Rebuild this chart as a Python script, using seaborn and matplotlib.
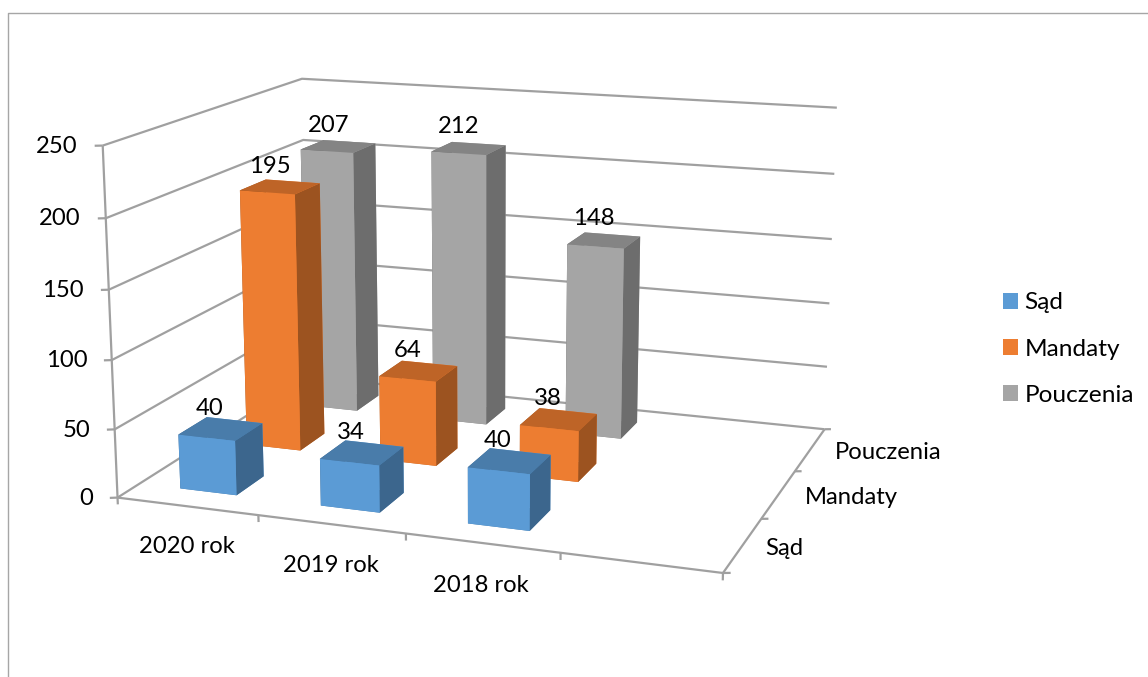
#!/usr/bin/env python3
"""3D column chart: Sąd / Mandaty / Pouczenia per year."""

import numpy as np
import pandas as pd
import matplotlib
matplotlib.use("Agg")
import matplotlib.pyplot as plt
from matplotlib.lines import Line2D
from matplotlib.patches import Patch
from mpl_toolkits.mplot3d import proj3d
import seaborn as sns

# ============================================================
# Data
# ============================================================
YEARS = ["2020 rok", "2019 rok", "2018 rok"]
SERIES = ["Sąd", "Mandaty", "Pouczenia"]
SAD = [40, 34, 40]
MANDATY = [195, 64, 38]
POUCZENIA = [207, 212, 148]
Z_TICKS = [0, 50, 100, 150, 200, 250]
COLORS = ["#5B9BD5", "#ED7D31", "#A5A5A5"]

GRID = "#A0A0A0"
W, H = 1148, 677
FONT = 17.2

# ============================================================
# Plot
# ============================================================
df = pd.DataFrame({"year": YEARS, "Sąd": SAD, "Mandaty": MANDATY, "Pouczenia": POUCZENIA})
df = df.melt(id_vars="year", var_name="series", value_name="value")

sns.set_theme(style="white")
plt.rcParams["font.family"] = ["Lato", "DejaVu Sans"]
palette = sns.color_palette(COLORS)

fig = plt.figure(figsize=(W / 100, H / 100), dpi=100)
side = 1148
ax = fig.add_axes(
    [(W / 2 - side / 2 - 101.74) / W, (H / 2 - side / 2 + 26.10) / H, side / W, side / H],
    projection="3d",
    computed_zorder=False,
)
ax.set_xlim(0, 4, view_margin=0)
ax.set_ylim(0, 3, view_margin=0)
ax.set_zlim(0, 250, view_margin=0)
ax.view_init(13.9727, -70.3360)
ax.set_proj_type("persp", focal_length=0.3606)
ax.set_box_aspect((1, 0.7489, 0.5751), zoom=0.7002)
ax.set_xticks([])
ax.set_yticks([])
ax.set_zticks([])
ax.set_axis_off()


def line(xs, ys, zs):
    ax.plot(xs, ys, zs, color=GRID, lw=1.6, zorder=1, solid_capstyle="butt")


def label(x, y, z, s, **kw):
    # project the 3D anchor, so the text sits at its real place in the picture
    px, py, _ = proj3d.proj_transform(x, y, z, ax.get_proj())
    ax.text2D(px, py, s, transform=ax.transData, fontsize=FONT, color="black", zorder=100, **kw)


# walls: value gridlines on left and back wall
for z in Z_TICKS:
    line([0, 0, 4], [0, 3, 3], [z, z, z])
    line([-0.044, 0], [-0.022, 0], [z, z])
# axis lines
line([0, 0], [0, 0], [0, 250])
line([0, 4], [0, 0], [0, 0])
line([4, 4], [0, 3], [0, 0])
for i in range(5):
    line([i, i], [0, 0], [-5, 0])
for i in range(4):
    line([4, 4.042], [i, i + 0.017], [0, 0])

# columns, back to front
bar_w, bar_d = 0.406, 0.41
label_lift = [6, 7, 8]
order = 10
for s_i in reversed(range(len(SERIES))):
    sub = df[df["series"] == SERIES[s_i]]
    base = np.array(palette[s_i])
    for y_i, year in enumerate(YEARS):
        val = sub.loc[sub["year"] == year, "value"].iloc[0]
        front, top, right = tuple(base), tuple(base * 0.8), tuple(base * 0.66)
        ax.bar3d(
            y_i + 0.297, s_i + 0.30, 0, bar_w, bar_d, val,
            color=[top, top, front, front, right, right],
            shade=False, linewidth=0, zorder=order,
        )
        order += 1
        label(y_i + 0.42, s_i + 0.51, val + label_lift[s_i], str(val), ha="center", va="bottom")

# tick labels
for z in Z_TICKS:
    label(-0.137, -0.07, z, str(z), ha="right", va="center")
for i, year in enumerate(YEARS):
    label(i + 0.49, 0, -30, year, ha="center", va="center")
y_off = [(0.236, 0.096), (0.442, 0.18), (0.50, 0.21)]
for i, name in enumerate(SERIES):
    label(4 + y_off[i][0], i + 0.5 + y_off[i][1], -3, name, ha="center", va="center")

# legend
handles = [Patch(facecolor=c, edgecolor="none", label=n) for c, n in zip(palette, SERIES)]
fig.legend(
    handles=handles, loc="center left", bbox_to_anchor=(996 / W, 1 - 349 / H), frameon=False,
    fontsize=17.6, handlelength=0.62, handleheight=0.62, handletextpad=0.25, labelspacing=1.03,
    borderpad=0.3, borderaxespad=0, labelcolor="black",
)

# outer frame: only top and left visible
fig.add_artist(Line2D([8 / W, 8 / W, 1], [0, 1 - 13 / H, 1 - 13 / H], color="#A6A6A6", lw=1.0))

fig.savefig("out.png", dpi=100)
plt.close(fig)
